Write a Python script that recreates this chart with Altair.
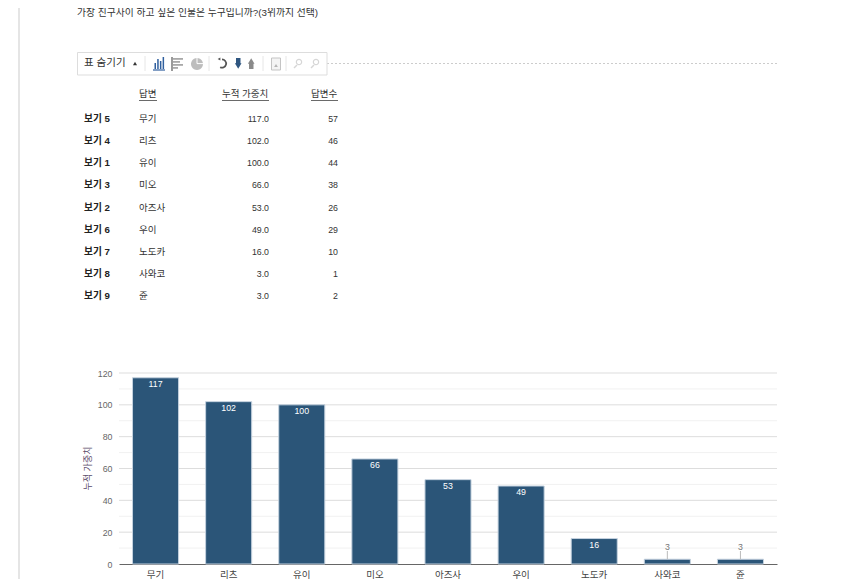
import altair as alt
import pandas as pd

answers = ["무기", "리츠", "유이", "미오", "아즈사", "우이", "노도카", "사와코", "쥰"]
options = ["보기 5", "보기 4", "보기 1", "보기 3", "보기 2", "보기 6", "보기 7", "보기 8", "보기 9"]
weights = [117, 102, 100, 66, 53, 49, 16, 3, 3]
counts = [57, 46, 44, 38, 26, 29, 10, 1, 2]
major_ticks = [20, 40, 60, 80, 100, 120]
minor_ticks = [10, 30, 50, 70, 90, 110]
question = "가장 친구사이 하고 싶은 인물은 누구입니까?(3위까지 선택)"
headers = ["답변", "누적 가중치", "답변수"]

FONT = "Liberation Sans, Noto Sans CJK KR"
BAR = "#2b5578"
W, H = 834, 571
df = pd.DataFrame({"option": options, "answer": answers, "weight": weights, "count": counts})
df["weight_text"] = [f"{w:.1f}" for w in weights]
blank = alt.Data(values=[{}])


def cx(v):
    return v


def cy(v):
    return v


Y_SCALE = alt.Scale(domain=[0, 120], range=[cy(556), cy(365)])
X_SCALE = alt.Scale(domain=answers, range=[cx(111), cx(769)], paddingInner=0.37, paddingOuter=0.185)
Y = alt.Y("weight:Q", scale=Y_SCALE, title=None, axis=None)
X = alt.X("answer:N", sort=answers, title=None, axis=None, scale=X_SCALE)
ROW = alt.Y("option:N", axis=None, title=None, sort=options,
            scale=alt.Scale(type="point", domain=options, range=[cy(111), cy(288)], padding=0))


def box(x, x2, y, y2, color, **kw):
    return alt.Chart(blank).mark_rect(color=color, **kw).encode(
        x=alt.value(cx(x)), x2=alt.value(cx(x2)), y=alt.value(cy(y)), y2=alt.value(cy(y2)))


def hline(x, x2, y, color, **kw):
    return alt.Chart(blank).mark_rule(color=color, **kw).encode(
        x=alt.value(cx(x)), x2=alt.value(cx(x2)), y=alt.value(cy(y)))


def vline(x, y, y2, color, **kw):
    return alt.Chart(blank).mark_rule(color=color, **kw).encode(
        x=alt.value(cx(x)), y=alt.value(cy(y)), y2=alt.value(cy(y2)))


def label(text, x, y, **kw):
    return alt.Chart(blank).mark_text(text=text, font=FONT, **kw).encode(
        x=alt.value(cx(x)), y=alt.value(cy(y)))


def glyph(shape, x, y, size, color):
    return alt.Chart(blank).mark_point(shape=shape, filled=True, color=color, opacity=1, size=size).encode(
        x=alt.value(cx(x)), y=alt.value(cy(y)))


# page frame and question
frame = [
    alt.Chart(blank).mark_rule(color="#dcdcdc", strokeWidth=1.5).encode(
        x=alt.value(cx(11)), y=alt.value(0), y2=alt.value(H))
]
title = [label(question, 69, 5, align="left", baseline="middle", fontSize=9.8, color="#333333")]

# toolbar
GREY = "#bdbdbd"
BLUE = "#2f5f9e"
toolbar = [
    hline(319, 769, 55.5, "#cccccc", strokeDash=[2, 2]),
    box(69.5, 319, 44.5, 67, "#ffffff", stroke="#dddddd", strokeWidth=1),
    label("표 숨기기", 76, 54.5, align="left", baseline="middle", fontSize=10.5, color="#333333"),
    glyph("triangle-up", 127, 55.5, 16, "#333333"),
    vline(137, 48, 63, "#e6e6e6"), vline(201, 48, 63, "#e6e6e6"),
    vline(255, 48, 63, "#e6e6e6"), vline(278, 48, 63, "#e6e6e6"),
]
# column-chart icon
toolbar += [box(146.5 + i * 2.7, 148 + i * 2.7, top, 61, BLUE) for i, top in enumerate([55, 51, 53, 49])]
toolbar += [hline(145, 157, 62, BLUE, strokeWidth=1.2)]
# bar-chart icon
toolbar += [vline(164, 49, 63, "#9a9a9a", strokeWidth=2)]
toolbar += [box(165, right, y, y + 1.8, "#a8a8a8") for right, y in
            [(175, 50), (172, 53), (175, 56), (170, 59)]]
# pie icon
toolbar += [
    alt.Chart(blank).mark_arc(color=GREY, radius=6, theta=0, theta2=6.283).encode(
        x=alt.value(cx(189)), y=alt.value(cy(56))),
    hline(189, 195, 55.6, "#ffffff"), vline(189, 50, 55.6, "#ffffff"),
]
# undo, down, up
toolbar += [
    alt.Chart(blank).mark_arc(color="#555555", radius=5, radius2=3.3, theta=0, theta2=3.6).encode(
        x=alt.value(cx(214)), y=alt.value(cy(55.5))),
    glyph("triangle-left", 211, 51, 10, "#555555"),
    box(228, 232.5, 50, 56, "#2f5680"), glyph("triangle-down", 230.2, 58, 44, "#2f5680"),
    box(241, 245.5, 55, 61, "#8a8a8a"), glyph("triangle-up", 243.2, 53, 44, "#8a8a8a"),
]
# export and zoom icons
toolbar += [
    box(263.5, 272.5, 50, 62, "#f4f4f4", stroke="#c4c4c4"),
    glyph("triangle-up", 268, 57.5, 14, "#b5b5b5"),
]
for c in (290, 307):
    toolbar += [
        alt.Chart(blank).mark_point(shape="circle", color="#d6d6d6", size=28, opacity=1, strokeWidth=1.2).encode(
            x=alt.value(cx(c + 1)), y=alt.value(cy(54))),
        alt.Chart(blank).mark_rule(color="#d6d6d6", strokeWidth=1.5).encode(
            x=alt.value(cx(c - 4)), x2=alt.value(cx(c - 1)), y=alt.value(cy(60)), y2=alt.value(cy(57))),
    ]

# table
table_base = alt.Chart(df)
table = [
    table_base.mark_text(align="left", baseline="middle", font=FONT, fontSize=9.7, fontWeight="bold", color="#222222").encode(
        x=alt.value(cx(76)), y=ROW, text="option:N"),
    table_base.mark_text(align="left", baseline="middle", font=FONT, fontSize=9.5, color="#333333").encode(
        x=alt.value(cx(131)), y=ROW, text="answer:N"),
    table_base.mark_text(align="right", baseline="middle", font=FONT, fontSize=8.8, color="#333333").encode(
        x=alt.value(cx(261)), y=ROW, text="weight_text:N"),
    table_base.mark_text(align="right", baseline="middle", font=FONT, fontSize=8.8, color="#333333").encode(
        x=alt.value(cx(330)), y=ROW, text="count:Q"),
]
header_layers = []
for text, x, x2 in zip(headers, (131, 214, 303), (149, 261, 330)):
    header_layers += [
        label(text, x, 86, align="left", baseline="middle", fontSize=9.5, color="#333333"),
        hline(x, x2, 92.5, "#444444", strokeWidth=0.8),
    ]

# bar chart
grid = [
    alt.Chart(pd.DataFrame({"t": minor_ticks})).mark_rule(color="#f1f1f1").encode(
        y=alt.Y("t:Q", axis=None, scale=Y_SCALE),
        x=alt.value(cx(111)), x2=alt.value(cx(769))),
    alt.Chart(pd.DataFrame({"t": major_ticks})).mark_rule(color="#dddddd").encode(
        y=alt.Y("t:Q", axis=None, scale=Y_SCALE),
        x=alt.value(cx(111)), x2=alt.value(cx(769))),
]
bars = alt.Chart(df).mark_bar(color=BAR, stroke="#c5d2df", strokeWidth=1).encode(
    x=alt.X("answer:N", sort=answers, scale=X_SCALE,
            axis=alt.Axis(title=None, orient="bottom", offset=cy(556) - H, labelAngle=0, ticks=False,
                          domainColor="#666666", labelColor="#444444", labelFont=FONT,
                          labelFontSize=9.5, labelPadding=5)),
    y=alt.Y("weight:Q", scale=Y_SCALE,
            axis=alt.Axis(title="누적 가중치", orient="left", offset=-cx(111), domain=False, ticks=False,
                          values=[0] + major_ticks, labelColor="#666666", labelFont=FONT,
                          labelFontSize=8.8, labelPadding=7, grid=False,
                          titleFont=FONT, titleFontSize=9, titleFontWeight="normal",
                          titleColor="#5a4a6a", titleX=-27, titleY=cy(460))),
)
inside = alt.Chart(df).transform_filter("datum.weight >= 10").mark_text(
    baseline="top", dy=2, font=FONT, fontSize=8.8, color="#ffffff").encode(
    x=X, y=Y, text="weight:Q")
outside = alt.Chart(df).transform_filter("datum.weight < 10").mark_text(
    baseline="bottom", dy=-7, font=FONT, fontSize=8.8, color="#777777").encode(
    x=X, y=Y, text="weight:Q")
leader = alt.Chart(df).transform_filter("datum.weight < 10").mark_rule(color="#bbbbbb").encode(
    x=X, y=Y, y2=alt.value(cy(543)))

layers = frame + title + toolbar + table + header_layers + grid + [bars, leader, inside, outside]
chart = alt.layer(*layers).resolve_scale(x="independent", y="independent").properties(
    width=W, height=H, padding=0, autosize=alt.AutoSizeParams(type="none"),
    background="#ffffff",
).configure_view(stroke=None)

chart.save("out.html", embed_options={"renderer": "svg", "actions": False})
